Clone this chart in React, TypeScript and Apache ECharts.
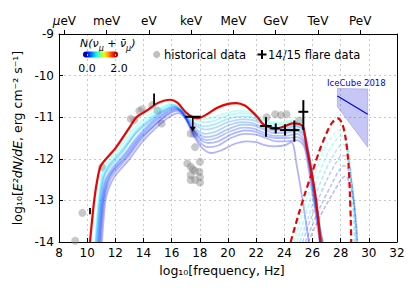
import React, { useEffect, useRef } from "react";
import * as echarts from "echarts";

const FONT = "DejaVu Sans";

// Axis ticks
const xTickMin = 8;
const xTickMax = 32;
const yTickMin = -14;
const yTickMax = -9;
const topTickValues = [-6, -3, 0, 3, 6, 9, 12, 15]; // log10(E/eV)
const topTickLabels = ["{m|μ}eV", "meV", "eV", "keV", "MeV", "GeV", "TeV", "PeV"];
const logHzPerEv = 14.3835;

// Historical data (gray circles)
const historicalX = [9.15, 9.66, 11.05, 13.09, 13.35, 13.7, 13.9, 14.63, 15.0, 15.29, 17.35, 17.59, 17.66, 17.11, 18.01, 17.35, 17.5, 17.66, 17.97, 17.35, 18.01, 17.35, 17.66, 18.01, 22.75, 23.35, 23.75, 24.15, 25.05];
const historicalY = [-13.97, -13.3, -12.2, -11.04, -11.07, -10.85, -10.81, -10.71, -10.84, -11.15, -11.39, -11.4, -11.72, -12.11, -12.07, -12.19, -12.25, -12.29, -12.31, -12.39, -12.44, -12.51, -12.51, -12.57, -11.0, -10.93, -10.95, -10.93, -11.08];

// 14/15 flare data: x, y, xlo, xhi, ylo, yhi
const flareX = [22.7, 23.39, 24.05, 24.71, 25.35];
const flareY = [-11.21, -11.27, -11.31, -11.31, -10.87];
const flareXlo = [22.28, 23.0, 23.7, 24.4, 25.0];
const flareXhi = [23.1, 23.7, 24.4, 25.07, 25.7];
const flareYlo = [-11.47, -11.39, -11.44, -11.59, -11.31];
const flareYhi = [-11.0, -11.15, -11.17, -11.08, -10.59];

// upper limit (x-range bar with downward arrow)
const ulX = [17.5];
const ulY = [-10.99];
const ulXlo = [16.95];
const ulXhi = [18.06];
const ulYend = [-11.35];

// single vertical error bars
const barX = [14.75, 10.2];
const barYlo = [-10.71, -13.33];
const barYhi = [-10.43, -13.18];

// IceCube 2018 butterfly
const iceX = [27.77, 29.92, 29.92, 27.77];
const iceY = [-10.31, -10.32, -11.72, -10.75];
const iceLineX = [27.77, 29.92];
const iceLineY = [-10.49, -10.93];

// Highlighted model (red)
const redSolid: number[][] = [[10.2, -14], [10.5, -13], [10.75, -12.45], [11.0, -12.15], [12.0, -11.75], [13.0, -11.25], [13.5, -11.0], [14.2, -10.85], [14.9, -10.68], [15.5, -10.6], [15.9, -10.58], [16.4, -10.65], [17.0, -10.88], [17.5, -11.0], [17.9, -11.02], [18.4, -10.95], [19.2, -10.78], [20.0, -10.68], [20.6, -10.66], [21.2, -10.72], [21.6, -10.83], [22.1, -11.0], [22.5, -11.17], [23.0, -11.25], [23.5, -11.27], [24.0, -11.22], [24.6, -11.15], [25.1, -11.17], [25.35, -11.25], [25.55, -11.65], [25.75, -12.0], [26.0, -12.45], [26.25, -13.0], [26.45, -13.6], [26.55, -14]];
const redDashed: number[][] = [[24.45, -14], [25.0, -13.35], [25.5, -12.8], [26.0, -12.3], [26.5, -11.8], [27.0, -11.38], [27.4, -11.13], [27.8, -11.03], [28.1, -11.15], [28.35, -11.5], [28.55, -12.1], [28.65, -12.8], [28.72, -13.5], [28.75, -14]];

// Model bundle: N(nu) value for each model and photon / neutrino curves
const photonN = [0.85, 0.72, 0.6, 0.52, 0.45, 0.4, 0.36, 0.32, 0.28, 0.25];
const photonCurves: number[][][] = [
  [[10.55, -14], [10.8, -13], [11.05, -12.35], [11.35, -12.15], [12.4, -11.7], [13.4, -11.25], [14.4, -10.95], [15.2, -10.77], [15.9, -10.68], [16.4, -10.72], [16.9, -10.85], [17.5, -10.98], [18.1, -11.05], [18.8, -11.02], [19.7, -10.92], [20.7, -10.85], [21.5, -10.87], [22.2, -10.98], [22.9, -11.1], [23.7, -11.13], [24.5, -11.08], [25.15, -11.15], [25.45, -11.45], [25.75, -12.05], [26.05, -12.75], [26.35, -13.45], [26.55, -14]],
  [[10.6, -14], [10.85, -13], [11.1, -12.4], [11.4, -12.2], [12.5, -11.75], [13.5, -11.3], [14.5, -11.0], [15.3, -10.8], [16.0, -10.7], [16.5, -10.75], [17.0, -10.9], [17.6, -11.05], [18.2, -11.12], [18.9, -11.1], [19.8, -10.98], [20.8, -10.9], [21.6, -10.92], [22.3, -11.05], [23.0, -11.15], [23.8, -11.18], [24.6, -11.12], [25.2, -11.2], [25.5, -11.5], [25.8, -12.1], [26.1, -12.8], [26.4, -13.5], [26.6, -14]],
  [[10.7, -14], [10.95, -13], [11.2, -12.45], [11.5, -12.25], [12.5, -11.85], [13.5, -11.35], [14.5, -11.05], [15.4, -10.82], [16.1, -10.72], [16.6, -10.8], [17.1, -10.98], [17.7, -11.15], [18.3, -11.22], [19.0, -11.18], [19.9, -11.05], [20.9, -10.98], [21.7, -11.0], [22.4, -11.12], [23.1, -11.22], [23.9, -11.25], [24.7, -11.2], [25.3, -11.3], [25.6, -11.65], [25.9, -12.25], [26.2, -12.95], [26.5, -13.6], [26.7, -14]],
  [[10.65, -14], [10.9, -13], [11.15, -12.45], [11.5, -12.2], [12.5, -11.8], [13.5, -11.38], [14.5, -11.08], [15.4, -10.85], [16.2, -10.76], [16.7, -10.85], [17.2, -11.05], [17.8, -11.22], [18.4, -11.3], [19.1, -11.25], [20.0, -11.12], [21.0, -11.05], [21.8, -11.07], [22.5, -11.18], [23.2, -11.26], [24.0, -11.28], [24.8, -11.22], [25.35, -11.3], [25.65, -11.7], [25.95, -12.3], [26.25, -13.0], [26.5, -13.6], [26.7, -14]],
  [[10.75, -14], [11.0, -13], [11.3, -12.5], [11.7, -12.25], [12.6, -11.9], [13.6, -11.45], [14.6, -11.1], [15.5, -10.85], [16.2, -10.75], [16.7, -10.85], [17.2, -11.08], [17.8, -11.3], [18.4, -11.4], [19.1, -11.35], [20.0, -11.2], [21.0, -11.12], [21.8, -11.15], [22.5, -11.25], [23.2, -11.32], [24.0, -11.32], [24.8, -11.28], [25.4, -11.4], [25.7, -11.8], [26.0, -12.4], [26.3, -13.1], [26.55, -13.7], [26.75, -14]],
  [[10.8, -14], [11.05, -13], [11.35, -12.5], [11.75, -12.28], [12.65, -11.92], [13.65, -11.48], [14.65, -11.12], [15.55, -10.88], [16.25, -10.78], [16.75, -10.88], [17.25, -11.14], [17.85, -11.38], [18.45, -11.48], [19.15, -11.43], [20.05, -11.28], [21.05, -11.18], [21.85, -11.2], [22.55, -11.3], [23.25, -11.38], [24.05, -11.38], [24.85, -11.33], [25.4, -11.46], [25.7, -11.9], [26.0, -12.5], [26.3, -13.2], [26.55, -13.8], [26.7, -14]],
  [[10.85, -14], [11.1, -13], [11.4, -12.55], [11.8, -12.3], [12.7, -11.95], [13.7, -11.5], [14.7, -11.15], [15.6, -10.9], [16.3, -10.8], [16.8, -10.92], [17.3, -11.2], [17.9, -11.45], [18.5, -11.55], [19.2, -11.5], [20.1, -11.35], [21.1, -11.25], [21.9, -11.28], [22.6, -11.38], [23.3, -11.45], [24.1, -11.45], [24.9, -11.4], [25.4, -11.55], [25.7, -12.0], [26.0, -12.6], [26.3, -13.3], [26.55, -13.85], [26.65, -14]],
  [[10.9, -14], [11.15, -13], [11.45, -12.55], [11.85, -12.3], [12.8, -11.95], [13.8, -11.5], [14.8, -11.18], [15.7, -10.92], [16.4, -10.82], [16.9, -10.95], [17.4, -11.25], [18.0, -11.52], [18.6, -11.62], [19.3, -11.58], [20.2, -11.42], [21.2, -11.32], [22.0, -11.35], [22.7, -11.45], [23.4, -11.5], [24.2, -11.5], [24.9, -11.48], [25.4, -11.62], [25.75, -12.15], [26.05, -12.8], [26.35, -13.45], [26.6, -14]],
  [[10.95, -14], [11.2, -13], [11.5, -12.6], [11.9, -12.35], [12.8, -12.0], [13.8, -11.55], [14.8, -11.2], [15.7, -10.95], [16.4, -10.85], [16.9, -10.98], [17.4, -11.3], [18.0, -11.6], [18.6, -11.72], [19.3, -11.68], [20.2, -11.5], [21.2, -11.4], [22.0, -11.42], [22.7, -11.5], [23.4, -11.58], [24.2, -11.58], [24.9, -11.55], [25.4, -11.7], [25.7, -12.2], [26.0, -12.85], [26.3, -13.5], [26.5, -14]],
  [[11.05, -14], [11.3, -13], [11.6, -12.65], [12.0, -12.4], [12.9, -12.05], [13.9, -11.6], [14.9, -11.25], [15.8, -11.0], [16.5, -10.9], [17.0, -11.05], [17.5, -11.4], [18.1, -11.72], [18.8, -11.86], [19.5, -11.8], [20.4, -11.65], [21.3, -11.58], [22.0, -11.6], [22.6, -11.67], [23.3, -11.7], [24.0, -11.68], [24.5, -11.6], [24.9, -12.2], [25.3, -13.0], [25.7, -13.9], [25.75, -14]],
];
const neutrinoN = [0.85, 0.72, 0.6, 0.45, 0.35, 0.28];
const neutrinoCurves: number[][][] = [
  [[24.7, -14], [25.3, -13.3], [25.9, -12.65], [26.5, -12.05], [27.1, -11.6], [27.6, -11.38], [28.0, -11.3], [28.3, -11.42], [28.55, -11.85], [28.75, -12.6], [28.88, -13.35], [28.95, -14]],
  [[24.9, -14], [25.5, -13.35], [26.1, -12.72], [26.7, -12.15], [27.3, -11.72], [27.8, -11.5], [28.1, -11.45], [28.4, -11.6], [28.62, -12.05], [28.82, -12.8], [28.95, -13.5], [29.0, -14]],
  [[25.1, -14], [25.7, -13.4], [26.3, -12.8], [26.9, -12.3], [27.5, -11.9], [27.95, -11.68], [28.2, -11.65], [28.45, -11.8], [28.7, -12.3], [28.9, -13.0], [29.02, -13.6], [29.07, -14]],
  [[25.3, -14], [25.9, -13.42], [26.5, -12.9], [27.1, -12.45], [27.7, -12.08], [28.1, -11.92], [28.35, -11.93], [28.6, -12.15], [28.85, -12.7], [29.02, -13.3], [29.12, -14]],
  [[25.5, -14], [26.1, -13.5], [26.7, -13.05], [27.3, -12.65], [27.85, -12.3], [28.2, -12.17], [28.45, -12.2], [28.75, -12.55], [28.98, -13.1], [29.12, -13.6], [29.18, -14]],
  [[25.7, -14], [26.3, -13.55], [26.9, -13.15], [27.5, -12.8], [28.0, -12.52], [28.3, -12.42], [28.6, -12.55], [28.88, -12.95], [29.08, -13.5], [29.2, -14]],
];

function jet(n: number): string {
  const x = n / 2;
  const c = (v: number) => Math.max(0, Math.min(1, v));
  const r = c(1.5 - Math.abs(4 * x - 3));
  const g = c(1.5 - Math.abs(4 * x - 2));
  const b = c(1.5 - Math.abs(4 * x - 1));
  return `rgb(${Math.round(r * 255)},${Math.round(g * 255)},${Math.round(b * 255)})`;
}

function buildOption(): any {
  const series: any[] = [];

  series.push({
    type: "scatter",
    data: historicalX.map((x, i) => [x, historicalY[i]]),
    symbol: "circle",
    symbolSize: 8,
    itemStyle: { color: "rgba(130,130,130,0.55)" },
    silent: true,
    z: 1,
  });

  photonCurves.forEach((pts, i) => {
    series.push({
      type: "line",
      data: pts,
      showSymbol: false,
      symbol: "none",
      smooth: 0.3,
      lineStyle: { color: jet(photonN[i]), width: 1.8, opacity: 0.3 },
      silent: true,
      z: 2,
    });
  });

  neutrinoCurves.forEach((pts, i) => {
    series.push({
      type: "line",
      data: pts,
      showSymbol: false,
      symbol: "none",
      smooth: 0.3,
      lineStyle: { color: jet(neutrinoN[i]), width: 1.5, opacity: 0.3, type: [4, 2] },
      silent: true,
      z: 2,
    });
  });

  series.push({
    type: "line",
    data: redSolid,
    showSymbol: false,
    symbol: "none",
    smooth: 0.3,
    lineStyle: { color: "#ee0000", width: 2.2 },
    silent: true,
    z: 3,
  });
  series.push({
    type: "line",
    data: redDashed,
    showSymbol: false,
    symbol: "none",
    smooth: 0.3,
    lineStyle: { color: "#ee0000", width: 2.2, type: [6, 3.5] },
    silent: true,
    z: 3,
  });

  // IceCube butterfly
  series.push({
    type: "custom",
    coordinateSystem: "cartesian2d",
    data: [[iceX[0], iceY[0]]],
    encode: { x: 0, y: 1 },
    silent: true,
    z: 4,
    renderItem: (_p: any, api: any) => {
      const points = iceX.map((x, i) => api.coord([x, iceY[i]]));
      return {
        type: "polygon",
        shape: { points },
        style: { fill: "rgba(70,70,225,0.3)", stroke: "rgba(70,70,225,0.35)", lineWidth: 0.8 },
      };
    },
  });
  series.push({
    type: "line",
    data: iceLineX.map((x, i) => [x, iceLineY[i]]),
    showSymbol: false,
    symbol: "none",
    lineStyle: { color: "#0000ee", width: 1.2 },
    silent: true,
    z: 4,
  });

  // flare data crosses
  series.push({
    type: "custom",
    coordinateSystem: "cartesian2d",
    data: flareX.map((x, i) => [x, flareY[i], flareXlo[i], flareXhi[i], flareYlo[i], flareYhi[i]]),
    encode: { x: 0, y: 1 },
    silent: true,
    z: 5,
    renderItem: (_p: any, api: any) => {
      const y = api.value(1);
      const x = api.value(0);
      const l = api.coord([api.value(2), y]);
      const r = api.coord([api.value(3), y]);
      const lo = api.coord([x, api.value(4)]);
      const hi = api.coord([x, api.value(5)]);
      return {
        type: "group",
        children: [
          { type: "line", shape: { x1: l[0], y1: l[1], x2: r[0], y2: r[1] }, style: { stroke: "#000", lineWidth: 2 } },
          { type: "line", shape: { x1: lo[0], y1: lo[1], x2: hi[0], y2: hi[1] }, style: { stroke: "#000", lineWidth: 2 } },
        ],
      };
    },
  });

  // upper limit
  series.push({
    type: "custom",
    coordinateSystem: "cartesian2d",
    data: ulX.map((x, i) => [x, ulY[i], ulXlo[i], ulXhi[i], ulYend[i]]),
    encode: { x: 0, y: 1 },
    silent: true,
    z: 5,
    renderItem: (_p: any, api: any) => {
      const x = api.value(0);
      const y = api.value(1);
      const l = api.coord([api.value(2), y]);
      const r = api.coord([api.value(3), y]);
      const c = api.coord([x, y]);
      const e = api.coord([x, api.value(4)]);
      return {
        type: "group",
        children: [
          { type: "line", shape: { x1: l[0], y1: l[1], x2: r[0], y2: r[1] }, style: { stroke: "#000", lineWidth: 2 } },
          { type: "line", shape: { x1: c[0], y1: c[1], x2: e[0], y2: e[1] - 4 }, style: { stroke: "#000", lineWidth: 1.6 } },
          { type: "polygon", shape: { points: [[e[0] - 3, e[1] - 5], [e[0] + 3, e[1] - 5], [e[0], e[1]]] }, style: { fill: "#000" } },
        ],
      };
    },
  });

  // single vertical error bars
  series.push({
    type: "custom",
    coordinateSystem: "cartesian2d",
    data: barX.map((x, i) => [x, barYlo[i], barYhi[i]]),
    encode: { x: 0, y: 1 },
    silent: true,
    z: 5,
    renderItem: (_p: any, api: any) => {
      const x = api.value(0);
      const a = api.coord([x, api.value(1)]);
      const b = api.coord([x, api.value(2)]);
      return { type: "line", shape: { x1: a[0], y1: a[1], x2: b[0], y2: b[1] }, style: { stroke: "#000", lineWidth: 1.8 } };
    },
  });

  const cbStops = [0, 0.1, 0.2, 0.3, 0.4, 0.5, 0.6, 0.7, 0.8, 0.9, 1].map((t) => ({ offset: t, color: jet(t * 2) }));

  return {
    animation: false,
    backgroundColor: "#fff",
    textStyle: { fontFamily: FONT },
    grid: { left: 59, right: 18, top: 34, bottom: 48, containLabel: false },
    xAxis: [
      {
        type: "value",
        position: "bottom",
        min: xTickMin,
        max: xTickMax,
        interval: 2,
        axisLine: { show: true, onZero: false, lineStyle: { color: "#000", width: 1 } },
        axisTick: { show: true, inside: true, length: 4, lineStyle: { color: "#000" } },
        axisLabel: { color: "#000", fontSize: 12, fontFamily: FONT, margin: 5 },
        splitLine: { show: true, lineStyle: { color: "#c8c8c8", type: [2, 3], width: 1 } },
      },
      {
        type: "value",
        position: "top",
        min: xTickMin - logHzPerEv,
        max: xTickMax - logHzPerEv,
        axisLine: { show: true, onZero: false, lineStyle: { color: "#000", width: 1 } },
        axisTick: { show: true, inside: false, length: 4, lineStyle: { color: "#000" }, customValues: topTickValues },
        axisLabel: {
          color: "#000",
          fontSize: 12,
          fontFamily: FONT,
          margin: 7,
          customValues: topTickValues,
          formatter: (v: number) => topTickLabels[topTickValues.indexOf(Math.round(v))] ?? "",
          rich: { m: { fontStyle: "italic", fontSize: 12, fontFamily: FONT, color: "#000" } },
        },
        splitLine: { show: false },
      },
    ],
    yAxis: [
      {
        type: "value",
        position: "left",
        min: yTickMin,
        max: yTickMax,
        interval: 1,
        axisLine: { show: true, onZero: false, lineStyle: { color: "#000", width: 1 } },
        axisTick: { show: true, inside: true, length: 4, lineStyle: { color: "#000" } },
        axisLabel: { color: "#000", fontSize: 12, fontFamily: FONT, margin: 5 },
        splitLine: { show: true, lineStyle: { color: "#c8c8c8", type: [2, 3], width: 1 } },
        name: "{n|log₁₀[}{i|E²dN/dE}{n|, erg cm⁻² s⁻¹]}",
        nameLocation: "middle",
        nameGap: 31,
        nameRotate: 90,
        nameTextStyle: {
          rich: {
            n: { fontSize: 12.5, fontFamily: FONT, color: "#000" },
            i: { fontSize: 12.5, fontFamily: FONT, fontStyle: "italic", color: "#000" },
          },
        },
      },
      {
        type: "value",
        position: "right",
        min: yTickMin,
        max: yTickMax,
        axisLine: { show: true, onZero: false, lineStyle: { color: "#000", width: 1 } },
        axisTick: { show: false },
        axisLabel: { show: false },
        splitLine: { show: false },
      },
    ],
    graphic: [
      {
        type: "text",
        x: 222,
        y: 270,
        style: { text: "log₁₀[frequency, Hz]", fill: "#000", fontSize: 12.5, fontFamily: FONT, align: "center", verticalAlign: "middle", textAlign: "center", textVerticalAlign: "middle" },
      },
      {
        type: "text",
        x: 80,
        y: 34,
        style: {
          text: "{i|N(ν}{s|μ}{i| + ν̄}{s|μ}{i|)}",
          fill: "#000",
          rich: {
            i: { fontSize: 11, fontFamily: FONT, fontStyle: "italic", lineHeight: 14, fill: "#000" },
            s: { fontSize: 8, fontFamily: FONT, fontStyle: "italic", lineHeight: 18, verticalAlign: "bottom", fill: "#000" },
          },
        },
      },
      {
        type: "rect",
        shape: { x: 83, y: 51.5, width: 35, height: 6, r: 3 },
        style: { fill: new echarts.graphic.LinearGradient(0, 0, 1, 0, cbStops) },
      },
      {
        type: "text",
        x: 87,
        y: 68,
        style: { text: "0.0", fill: "#000", fontSize: 11, fontFamily: FONT, align: "center", verticalAlign: "middle", textAlign: "center", textVerticalAlign: "middle" },
      },
      {
        type: "text",
        x: 119,
        y: 68,
        style: { text: "2.0", fill: "#000", fontSize: 11, fontFamily: FONT, align: "center", verticalAlign: "middle", textAlign: "center", textVerticalAlign: "middle" },
      },
      {
        type: "circle",
        shape: { cx: 156.7, cy: 54.5, r: 3.6 },
        style: { fill: "rgba(130,130,130,0.5)" },
      },
      {
        type: "text",
        x: 164,
        y: 54.5,
        style: { text: "historical data", fill: "#000", fontSize: 11.5, fontFamily: FONT, verticalAlign: "middle", textVerticalAlign: "middle" },
      },
      { type: "line", shape: { x1: 257.5, y1: 54.5, x2: 266.5, y2: 54.5 }, style: { stroke: "#000", lineWidth: 2 } },
      { type: "line", shape: { x1: 262, y1: 50, x2: 262, y2: 59 }, style: { stroke: "#000", lineWidth: 2 } },
      {
        type: "text",
        x: 268,
        y: 54.5,
        style: { text: "14/15 flare data", fill: "#000", fontSize: 11.5, fontFamily: FONT, verticalAlign: "middle", textVerticalAlign: "middle" },
      },
      {
        type: "text",
        x: 327,
        y: 82.5,
        style: { text: "IceCube 2018", fill: "#0000ee", fontSize: 8.5, fontFamily: FONT, verticalAlign: "middle", textVerticalAlign: "middle" },
      },
    ],
    series,
  };
}

export default function App() {
  const ref = useRef<HTMLDivElement>(null);
  useEffect(() => {
    if (!ref.current) return;
    const chart = echarts.init(ref.current, null, { renderer: "svg" });
    chart.setOption(buildOption());
    return () => chart.dispose();
  }, []);
  return <div ref={ref} style={{ position: "absolute", left: 0, top: 0, width: 415, height: 290 }} />;
}
